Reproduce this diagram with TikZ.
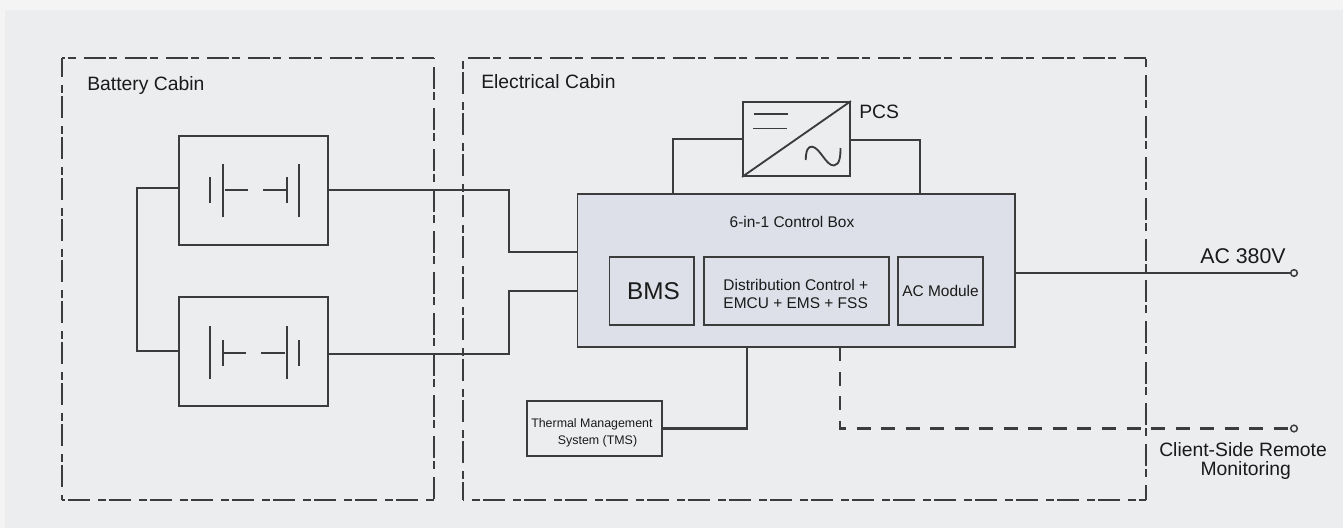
\documentclass[tikz,border=0pt]{standalone}
\usepackage{fontspec}
\setmainfont{Liberation Sans}
\definecolor{pagegrey}{HTML}{F4F4F4}
\definecolor{panelgrey}{HTML}{ECEDEF}
\definecolor{boxgrey}{HTML}{DDE0E8}
\definecolor{linegrey}{HTML}{3C3C3C}
\definecolor{textgrey}{HTML}{1A1A1A}
\tikzstyle{wire} = [draw=linegrey,line width=1.8pt,line join=miter]
\tikzstyle{cell} = [draw=linegrey,line width=1.4pt]
\tikzstyle{remote} = [wire,line width=1.6pt,dash pattern=on 10.5pt off 7.9pt]
\tikzstyle{cabin} = [draw=linegrey,line width=1.5pt,dash pattern=on 16.5pt off 2.4pt on 6pt off 5.85pt]
\tikzstyle{unit} = [draw=linegrey,line width=1.4pt,inner sep=0pt,text=textgrey,align=center,font=\fontsize{11.6}{14}\selectfont]
\tikzstyle{label} = [inner sep=0pt,text=textgrey,font=\fontsize{14.5}{13.6}\selectfont,align=left]
\tikzstyle{terminal} = [circle,draw=linegrey,line width=1.1pt,fill=panelgrey,inner sep=0pt,minimum size=5pt]
\begin{document}
\begin{tikzpicture}[x=0.75pt,y=-0.75pt]
	\useasboundingbox (0,0) rectangle (1343,528);
	\fill[pagegrey] (0,0) rectangle (1343,528);
	\fill[panelgrey] (5,10) rectangle (1343,528);
	% cabins, side by side so the dashes fall right
	\foreach \ax/\ay/\bx/\by/\ph in {62/58/434/58/14.25pt,434/58/434/500/24pt,434/500/62/500/18.75pt,62/500/62/58/21pt,
		463/58/1146/58/27pt,1146/58/1146/500/18pt,1146/500/463/500/11.25pt,463/500/463/58/3pt}
	\draw[cabin,dash phase=\ph] (\ax,\ay) -- (\bx,\by);
	\node[label,anchor=base west] (batterylabel) at (87,91) {Battery Cabin};
	\node[label,anchor=base west] (electricallabel) at (481,89) {Electrical Cabin};
	% battery packs
	\node[unit,minimum width=111.75pt,minimum height=81.75pt] (packa) at (253.5,190.5) {};
	\node[unit,minimum width=111.75pt,minimum height=81.75pt] (packb) at (253.5,351.5) {};
	\foreach \x/\y in {210/190,286.7/190,222.7/352.7,299.3/352.7}
	\draw[cell] (\x,\y-13) -- (\x,\y+13);
	\foreach \x/\y in {222.7/190,299.3/190,210/352.7,286.7/352.7}
	\draw[cell] (\x,\y-26.5) -- (\x,\y+26.5);
	\draw[cell] (225,190) -- (248,190);
	\draw[cell] (263,190) -- (286.7,190);
	\draw[cell] (222.7,352.7) -- (246,352.7);
	\draw[cell] (261,352.7) -- (285,352.7);
	% control box
	\node[unit,fill=boxgrey,minimum width=328.1pt,minimum height=114.75pt] (controlbox) at (796.25,270.5) {};
	\node[unit,draw=none] (controltitle) at (792,222) {6-in-1 Control Box};
	\node[unit,minimum width=63.4pt,minimum height=51pt,font=\fontsize{18.2}{20}\selectfont] (bms) at (651.75,291) {\hspace*{2.5pt}BMS};
	\node[unit,minimum width=138.75pt,minimum height=51pt] (distribution) at (796.5,291) {};
	\node[unit,draw=none,align=left,anchor=west] (distributiontext) at (722.5,294) {Distribution Control +\\EMCU + EMS + FSS};
	\node[unit,minimum width=63.75pt,minimum height=51pt] (acmodule) at (940.5,291) {AC Module};
	% PCS
	\node[unit,minimum width=80.25pt,minimum height=55.5pt] (pcs) at (796.5,139) {};
	\node[label,anchor=base west] (pcslabel) at (859,118) {PCS};
	\draw[cell] (pcs.south west) -- (pcs.north east);
	\draw[cell] (754,114) -- (788,114);
	\draw[cell] (753,128.5) -- (787,128.5);
	\draw[cell] (805.7,160) .. controls (806,150) and (808,146.5) .. (812,146.7) .. controls (820,147.5) and (826,166) .. (834,165.5) .. controls (840,165) and (840.5,155) .. (840.5,148);
	% TMS
	\node[unit,line width=1.8pt,minimum width=101.25pt,minimum height=41.25pt] (tms) at (594.5,428.5) {};
	\node[inner sep=0pt,anchor=west,align=left,text=textgrey,font=\fontsize{9.3}{12.6}\selectfont] (tmstext) at (531,432.5) {Thermal Management\\\hspace*{20pt}System (TMS)};
	% terminals
	\node[terminal] (acport) at (1294,273) {};
	\node[terminal] (remoteport) at (1294,428.5) {};
	\node[label,anchor=base west,font=\fontsize{16}{18}\selectfont] (aclabel) at (1200,263) {AC 380V};
	\node[label,anchor=west] (remotelabel) at (1159,461) {Client-Side Remote\\\hspace*{31pt}Monitoring};
	% connectors
	\coordinate (loopa) at (179,188);
	\coordinate (loopb) at (179,351);
	\coordinate (loopleft) at (137,188);
	\coordinate (busa) at (509,190);
	\coordinate (busb) at (509,354);
	\coordinate (inputa) at (577.5,252);
	\coordinate (inputb) at (577.5,291);
	\coordinate (pcsleft) at (743,139);
	\coordinate (pcsright) at (850,140);
	\coordinate (dropleft) at (673,194);
	\coordinate (dropright) at (920,194);
	\coordinate (tmsdrop) at (747,347);
	\coordinate (remotedrop) at (840,347);
	\draw[wire] (loopa) -- (loopleft) |- (loopb);
	\draw[wire] (packa.east |- busa) -- (busa) |- (inputa);
	\draw[wire] (packb.east |- busb) -- (busb) |- (inputb);
	\draw[wire] (pcsleft) -| (dropleft);
	\draw[wire] (pcsright) -| (dropright);
	\draw[wire] (tms.east) -| (tmsdrop);
	\draw[wire] (controlbox.east |- acport) -- (acport);
	\draw[remote] (remotedrop) |- (remoteport);
\end{tikzpicture}
\end{document}
